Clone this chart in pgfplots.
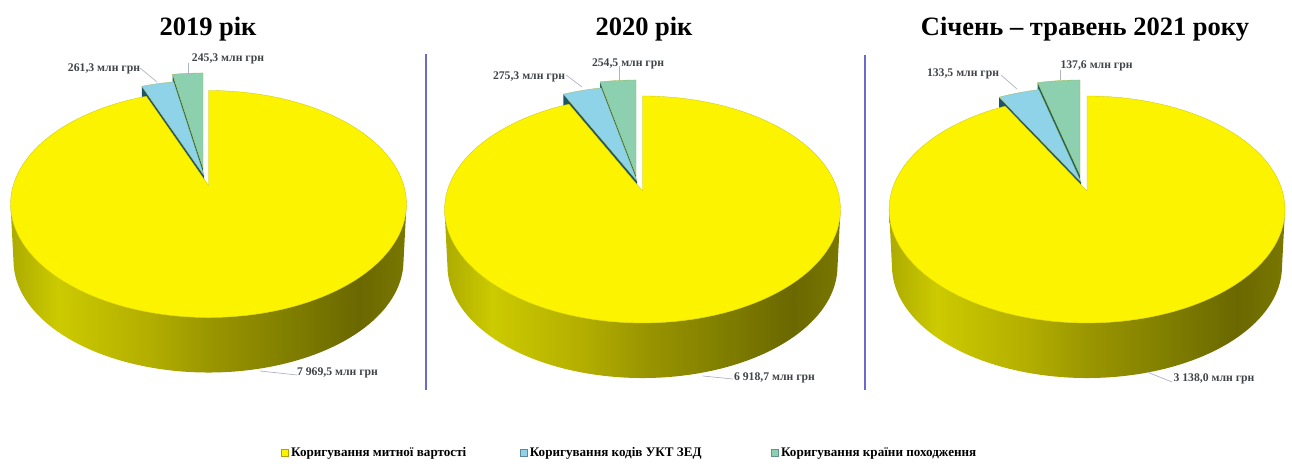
\documentclass[border=0pt]{standalone}
\usepackage{pgfplots}
\pgfplotsset{compat=1.18}
\usepackage{fontspec}
\setmainfont{Liberation Serif}

\definecolor{pieyellow}{RGB}{251,243,0}
\definecolor{pieedge}{RGB}{170,165,0}
\definecolor{pieblue}{RGB}{143,211,232}
\definecolor{piebluedark}{RGB}{28,84,104}
\definecolor{piegreen}{RGB}{140,208,176}
\definecolor{piegreendark}{RGB}{30,100,96}
\definecolor{rulecolor}{RGB}{106,106,204}
\definecolor{labelcolor}{RGB}{64,68,72}
\definecolor{leadercolor}{RGB}{175,180,195}

% Rim of the disc: light on the left, dark on the right
\definecolor{rimA}{RGB}{172,171,0}
\definecolor{rimB}{RGB}{204,202,0}
\definecolor{rimC}{RGB}{179,174,0}
\definecolor{rimD}{RGB}{154,150,0}
\definecolor{rimE}{RGB}{125,123,0}
\definecolor{rimF}{RGB}{106,104,0}
\definecolor{rimG}{RGB}{122,120,0}
\pgfdeclarehorizontalshading{pieside}{100bp}{
  color(0bp)=(rimA); color(25bp)=(rimA); color(31bp)=(rimB); color(42.5bp)=(rimC);
  color(50bp)=(rimD); color(61.5bp)=(rimE); color(69bp)=(rimF); color(75bp)=(rimG);
  color(100bp)=(rimG)}

% One sector of the tilted disc, apex at (#1,#2), from angle #3 to #4 (degrees clockwise from the top)
\newcommand{\sector}[6]{%
  \pgfmathsetmacro\wa{#3}%
  \pgfmathsetmacro\wb{#4}%
  \pgfmathsetmacro\wst{(\wb-\wa)/#5}%
  \pgfmathsetmacro\wlo{\wa-\wst}%
  \pgfmathsetmacro\whi{\wb+\wst}%
  \pgfmathtruncatemacro\wn{#5+3}%
  \addplot[forget plot,fill=#6,draw=pieedge!60!#6,line width=0.3pt,variable=\t,
           domain=\wlo:\whi,samples=\wn]
    ({#1+pmx(ifthenelse(\t<\wa-0.01||\t>\wb+0.01,0,1),\t)},
     {#2+pmy(ifthenelse(\t<\wa-0.01||\t>\wb+0.01,0,1),\t)});
}

% Cut face below the left edge of an exploded sector
\newcommand{\cutface}[4]{%
  \pgfmathsetmacro\fx{#1+pmx(1,#3)}%
  \pgfmathsetmacro\fy{#2+pmy(1,#3)}%
  \pgfmathsetmacro\fyb{\fy+57.6}%
  \pgfmathsetmacro\fab{#2+57.6}%
  \addplot[forget plot,fill=#4,draw=none] coordinates
    {(\fx,\fy) (#1,#2) (#1,\fab) (\fx,\fyb)} --cycle;
}

% One pie: centre x, apex y, yellow, blue and green values, apexes of blue and green sectors
\newcommand{\drawpie}[9]{%
  \pgfmathsetmacro\total{#3+#4+#5}%
  \pgfmathsetmacro\tg{#5/\total*360}%
  \pgfmathsetmacro\tb{(#4+#5)/\total*360}%
  \pgfmathsetmacro\ty{360-\tb}%
  \cutface{#8}{#9}{-\tg}{piegreendark}%
  \sector{#8}{#9}{-\tg}{0}{10}{piegreen}%
  \cutface{#6}{#7}{-\tb}{piebluedark}%
  \sector{#6}{#7}{-\tb}{-\tg}{10}{pieblue}%
  \addplot[forget plot,shade,shading=pieside,draw=none,variable=\t,domain=100:420,samples=161]
    ({#1+ifthenelse(\t<=260.5,pmx(1,\t),0.985*pmx(1,520-\t))},
     {#2+ifthenelse(\t<=260.5,pmy(1,\t),57+0.985*pmy(1,520-\t))});
  \sector{#1}{#2}{0}{\ty}{180}{pieyellow}%
}

\pgfplotsset{swatch/.style={legend image code/.code={%
  \draw[##1,line width=0.5pt] (0pt,-3.5pt) rectangle (7pt,3.5pt);}}}

\tikzset{
  charttitle/.style={font=\fontsize{26.5}{30}\selectfont\bfseries,text=black,inner sep=0pt,anchor=base},
  sumlabel/.style={font=\fontsize{11.7}{13}\selectfont\bfseries,text=labelcolor,inner sep=0pt,anchor=base},
  leader/.style={leadercolor,line width=0.7pt}
}

\begin{document}
\begin{tikzpicture}
\begin{axis}[
  scale only axis,width=1292pt,height=463pt,
  xmin=0,xmax=1292,ymin=0,ymax=463,y dir=reverse,
  hide axis,clip=false,
  declare function={
    pk=0.163; pa=195.3; ph=110.5;
    pmx(\r,\a)=\r*pa*sin(\a)/(1+pk*\r*cos(\a));
    pmy(\r,\a)=-\r*ph*cos(\a)/(1+pk*\r*cos(\a));
  },
  legend columns=3,
  legend style={at={(axis cs:281,453)},anchor=west,draw=none,fill=none,inner sep=0pt,
    font=\fontsize{13.1}{15}\selectfont\bfseries,text=black,
    /tikz/column 2/.style={column sep=51pt},
    /tikz/column 4/.style={column sep=67pt},
    nodes={inner xsep=2.5pt,inner ysep=0pt}},
]
% Sums in millions of hryvnias
\drawpie{208.5}{185.5}{7969.5}{261.3}{245.3}{204}{175.5}{203}{168}
\drawpie{642.5}{191}{6918.7}{275.3}{254.5}{637}{181}{636}{175}
\drawpie{1087}{191}{3138.0}{133.5}{137.6}{1081}{182}{1080}{175}

% Dividers between the charts
\addplot[forget plot,rulecolor,line width=2.4pt] coordinates {(426,54) (426,390)};
\addplot[forget plot,rulecolor,line width=2.4pt] coordinates {(865,55) (865,390)};

% Leader lines
\addplot[forget plot,leader] coordinates {(140,68) (157,82)};
\addplot[forget plot,leader] coordinates {(188,63) (188,75)};
\addplot[forget plot,leader] coordinates {(260,371) (297,375)};
\addplot[forget plot,leader] coordinates {(566,75) (582,87)};
\addplot[forget plot,leader] coordinates {(619,66) (619,80)};
\addplot[forget plot,leader] coordinates {(703,376) (733,379)};
\addplot[forget plot,leader] coordinates {(1001,75) (1017,89)};
\addplot[forget plot,leader] coordinates {(1060,70) (1060,80)};
\addplot[forget plot,leader] coordinates {(1147,372) (1172,382)};

\node[charttitle] at (axis cs:208,35) {2019 рік};
\node[charttitle] at (axis cs:644,35) {2020 рік};
\node[charttitle] at (axis cs:1085,35) {Січень – травень 2021 року};

\node[sumlabel] at (axis cs:104,71.5) {261,3 млн грн};
\node[sumlabel] at (axis cs:228,61.7) {245,3 млн грн};
\node[sumlabel] at (axis cs:337.5,375) {7 969,5 млн грн};
\node[sumlabel] at (axis cs:529,79) {275,3 млн грн};
\node[sumlabel] at (axis cs:628,66) {254,5 млн грн};
\node[sumlabel] at (axis cs:774.5,380) {6 918,7 млн грн};
\node[sumlabel] at (axis cs:963,76) {133,5 млн грн};
\node[sumlabel] at (axis cs:1096.5,68) {137,6 млн грн};
\node[sumlabel] at (axis cs:1214,381.7) {3 138,0 млн грн};

\addlegendimage{swatch,fill=pieyellow,draw=pieedge}
\addlegendentry{Коригування митної вартості}
\addlegendimage{swatch,fill=pieblue,draw=piebluedark!70}
\addlegendentry{Коригування кодів УКТ ЗЕД}
\addlegendimage{swatch,fill=piegreen,draw=piegreendark!70}
\addlegendentry{Коригування країни походження}
\end{axis}
\useasboundingbox (0,0) rectangle (1292pt,463pt);
\end{tikzpicture}
\end{document}
